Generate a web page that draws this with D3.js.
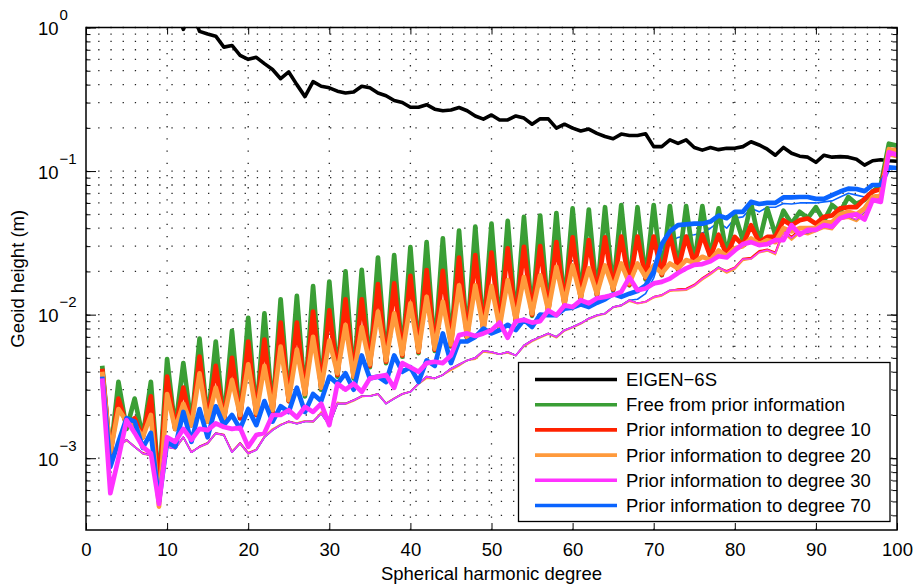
<!DOCTYPE html>
<html>
<head>
<meta charset="utf-8">
<script src="https://cdn.jsdelivr.net/npm/d3@7"></script>
<style>
body { margin: 0; background: #fff; }
svg text { font-family: "Liberation Sans", Arial, sans-serif; fill: #000; }
</style>
</head>
<body>
<div id="chart"></div>
<script>
// spherical harmonic degrees 2..100
var degrees = d3.range(2, 101);
var xTicks = [0, 10, 20, 30, 40, 50, 60, 70, 80, 90, 100];
var yDecades = [-3, -2, -1, 0];
var legendLabels = ["EIGEN\u22126S", "Free from prior information", "Prior information to degree 10",
  "Prior information to degree 20", "Prior information to degree 30", "Prior information to degree 70"];

// geoid height per degree (m), rows of ten starting at degree 2, 12, 22 ...
var eigen6s = [
  9.0, 6.0, 4.5, 3.6, 3.0, 2.5, 2.1, 1.8, 1.6, 1.4,
  0.97, 1.3, 0.94, 0.90, 0.87, 0.73, 0.75, 0.64, 0.60, 0.62,
  0.56, 0.51, 0.44, 0.49, 0.40, 0.33, 0.42, 0.39, 0.38, 0.36,
  0.35, 0.355, 0.39, 0.38, 0.35, 0.335, 0.31, 0.30, 0.278, 0.278,
  0.29, 0.27, 0.263, 0.266, 0.277, 0.263, 0.242, 0.23, 0.246, 0.227,
  0.227, 0.242, 0.234, 0.212, 0.231, 0.231, 0.199, 0.212, 0.199, 0.19,
  0.196, 0.183, 0.174, 0.168, 0.181, 0.177, 0.177, 0.182, 0.148, 0.148,
  0.165, 0.156, 0.165, 0.146, 0.140, 0.146, 0.141, 0.144, 0.144, 0.148,
  0.160, 0.152, 0.142, 0.129, 0.146, 0.133, 0.127, 0.125, 0.115, 0.129,
  0.125, 0.126, 0.125, 0.121, 0.110, 0.118, 0.120, 0.118, 0.117];

var freeGreen = [
  0.0044, 0.00105, 0.0034, 0.0016, 0.0026, 0.0014, 0.0034, 0.00063, 0.0049, 0.0016,
  0.0046, 0.0017, 0.0068, 0.0018, 0.0065, 0.0018, 0.0077, 0.0019, 0.0095, 0.0020,
  0.0102, 0.0021, 0.0128, 0.0025, 0.0135, 0.0027, 0.0158, 0.0030, 0.0170, 0.0037,
  0.0200, 0.0036, 0.0205, 0.0043, 0.0250, 0.0046, 0.0260, 0.0051, 0.0295, 0.0054,
  0.0320, 0.0056, 0.0340, 0.0060, 0.0385, 0.0068, 0.0410, 0.0077, 0.0430, 0.0080,
  0.0450, 0.0089, 0.0480, 0.0098, 0.0490, 0.0104, 0.0510, 0.0116, 0.0550, 0.0128,
  0.0540, 0.0136, 0.0560, 0.0148, 0.0580, 0.0160, 0.0560, 0.0176, 0.0580, 0.0188,
  0.0570, 0.0205, 0.0570, 0.0225, 0.0570, 0.0245, 0.0550, 0.0260, 0.0500, 0.0330,
  0.0600, 0.0320, 0.0550, 0.0360, 0.0530, 0.0430, 0.0520, 0.0470, 0.0560, 0.0450,
  0.0580, 0.0520, 0.0660, 0.0590, 0.0630, 0.0720, 0.0800, 0.155, 0.150];

var prior10 = [
  0.0042, 0.00105, 0.0026, 0.0017, 0.0019, 0.0014, 0.0027, 0.00062, 0.0037, 0.0016,
  0.0031, 0.0017, 0.0051, 0.0018, 0.0044, 0.0018, 0.0050, 0.0019, 0.0065, 0.0020,
  0.0067, 0.0021, 0.0088, 0.0025, 0.0088, 0.0028, 0.0105, 0.0031, 0.0107, 0.0038,
  0.0128, 0.0037, 0.0128, 0.0044, 0.0163, 0.0047, 0.0165, 0.0052, 0.0186, 0.0055,
  0.0204, 0.0057, 0.0202, 0.0061, 0.0250, 0.0069, 0.0260, 0.0078, 0.0270, 0.0081,
  0.0290, 0.0090, 0.0297, 0.0100, 0.0300, 0.0105, 0.0320, 0.0118, 0.0345, 0.0130,
  0.0330, 0.0138, 0.0345, 0.0150, 0.0350, 0.0162, 0.0350, 0.0180, 0.0350, 0.0190,
  0.0360, 0.0208, 0.0350, 0.0228, 0.0360, 0.0253, 0.0360, 0.0260, 0.0348, 0.0305,
  0.0420, 0.0320, 0.0348, 0.0348, 0.0455, 0.0420, 0.0455, 0.0467, 0.0430, 0.0480,
  0.0490, 0.0550, 0.0560, 0.0560, 0.0640, 0.0720, 0.0750, 0.140, 0.140];

var prior20 = [
  0.0040, 0.0011, 0.0022, 0.0018, 0.0017, 0.0014, 0.0020, 0.00046, 0.0028, 0.0016,
  0.0024, 0.0017, 0.0039, 0.0018, 0.0031, 0.0019, 0.0035, 0.0020, 0.0045, 0.00205,
  0.0044, 0.00216, 0.0060, 0.00254, 0.0057, 0.0028, 0.0070, 0.0031, 0.0066, 0.0039,
  0.0085, 0.0037, 0.0082, 0.0045, 0.0105, 0.0048, 0.0102, 0.0053, 0.0120, 0.0056,
  0.0133, 0.0058, 0.0123, 0.0062, 0.0160, 0.0070, 0.0160, 0.0080, 0.0158, 0.0082,
  0.0174, 0.0092, 0.0183, 0.0102, 0.0188, 0.0107, 0.0215, 0.0120, 0.0220, 0.0133,
  0.0210, 0.0140, 0.0220, 0.0152, 0.0227, 0.0165, 0.0227, 0.0183, 0.0220, 0.0194,
  0.0227, 0.0210, 0.0240, 0.0230, 0.0253, 0.0240, 0.0280, 0.0255, 0.0290, 0.0300,
  0.0340, 0.0310, 0.0330, 0.0320, 0.0400, 0.0380, 0.0400, 0.0400, 0.0400, 0.0440,
  0.0440, 0.0500, 0.0520, 0.0500, 0.0550, 0.0660, 0.0680, 0.142, 0.138];

var prior30 = [
  0.0036, 0.00057, 0.0010, 0.00184, 0.0015, 0.0012, 0.00108, 0.00048, 0.0014, 0.0013,
  0.0016, 0.00134, 0.0016, 0.00157, 0.00175, 0.00165, 0.0016, 0.00163, 0.0012, 0.00145,
  0.0015, 0.0020, 0.0020, 0.00216, 0.00192, 0.00228, 0.0021, 0.0024, 0.0017, 0.0033,
  0.0030, 0.0033, 0.0029, 0.0036, 0.0037, 0.0038, 0.0031, 0.0046, 0.0043, 0.0040,
  0.0046, 0.0047, 0.0046, 0.0052, 0.0072, 0.0074, 0.0071, 0.0074, 0.0078, 0.0088,
  0.0069, 0.0090, 0.0092, 0.0088, 0.0090, 0.0107, 0.0099, 0.0116, 0.0113, 0.0126,
  0.0120, 0.0130, 0.0133, 0.0137, 0.0144, 0.0182, 0.0148, 0.0152, 0.0165, 0.0169,
  0.0178, 0.0195, 0.0210, 0.0222, 0.0225, 0.0235, 0.0255, 0.0250, 0.0280, 0.0310,
  0.0320, 0.0305, 0.0310, 0.0330, 0.0330, 0.0420, 0.0360, 0.0390, 0.0390, 0.0420,
  0.0410, 0.0470, 0.0490, 0.0500, 0.0460, 0.0630, 0.0610, 0.135, 0.130];

var prior70 = [
  0.0037, 0.00087, 0.0013, 0.0019, 0.0018, 0.00118, 0.0015, 0.00050, 0.0013, 0.0012,
  0.0021, 0.0013, 0.0022, 0.0014, 0.0023, 0.0017, 0.0020, 0.0016, 0.0022, 0.0017,
  0.0025, 0.0018, 0.0023, 0.0021, 0.0031, 0.0021, 0.0028, 0.0025, 0.0037, 0.0033,
  0.0039, 0.0030, 0.0052, 0.0036, 0.0037, 0.0034, 0.0052, 0.0040, 0.0043, 0.0034,
  0.0048, 0.0044, 0.0074, 0.0046, 0.0065, 0.0065, 0.0070, 0.0080, 0.0074, 0.0078,
  0.0085, 0.0078, 0.0092, 0.0082, 0.0100, 0.0099, 0.0099, 0.0110, 0.0112, 0.0118,
  0.0113, 0.0121, 0.0128, 0.0139, 0.0133, 0.0140, 0.0146, 0.0160, 0.0200, 0.0310,
  0.0380, 0.0420, 0.0425, 0.0430, 0.0430, 0.0445, 0.0490, 0.0470, 0.0520, 0.0520,
  0.0610, 0.0590, 0.0600, 0.0600, 0.0655, 0.0655, 0.0660, 0.0660, 0.0640, 0.0640,
  0.0680, 0.0720, 0.0755, 0.0750, 0.0725, 0.0800, 0.0800, 0.106, 0.105];

// thin curves of the same solutions
var thinGreen = [
  0.0041, 0.0010, 0.0012, 0.00134, 0.0012, 0.00108, 0.00105, 0.00048, 0.0012, 0.00117,
  0.0014, 0.0011, 0.0012, 0.00127, 0.00149, 0.00145, 0.0011, 0.00127, 0.00108, 0.00114,
  0.0014, 0.00157, 0.0017, 0.0018, 0.00174, 0.0018, 0.0018, 0.00205, 0.0017, 0.0024,
  0.0024, 0.00253, 0.0027, 0.0027, 0.0028, 0.0024, 0.0026, 0.0028, 0.0029, 0.0033,
  0.0037, 0.0036, 0.0038, 0.0042, 0.0045, 0.0048, 0.0050, 0.0056, 0.0055, 0.0053,
  0.0055, 0.0052, 0.0061, 0.0066, 0.0070, 0.0074, 0.0070, 0.0078, 0.0082, 0.0087,
  0.0094, 0.0099, 0.0102, 0.0113, 0.0116, 0.0126, 0.0120, 0.0123, 0.0133, 0.0137,
  0.0148, 0.0149, 0.0150, 0.0160, 0.0178, 0.0194, 0.0215, 0.0199, 0.0210, 0.0243,
  0.0246, 0.0274, 0.0280, 0.0266, 0.0377, 0.0339, 0.0377, 0.0368, 0.0387, 0.0408,
  0.0398, 0.0467, 0.0480, 0.0455, 0.0520, 0.0640, 0.0630, 0.130, 0.126];

var thinRed = [
  0.0041, 0.0010, 0.0012, 0.00135, 0.0012, 0.00109, 0.00105, 0.00048, 0.0012, 0.00118,
  0.0014, 0.0011, 0.00121, 0.00128, 0.0015, 0.00146, 0.00111, 0.00128, 0.00109, 0.00115,
  0.00141, 0.00158, 0.00171, 0.00181, 0.00175, 0.00181, 0.00181, 0.00206, 0.00171, 0.00241,
  0.00241, 0.00254, 0.00271, 0.00271, 0.00281, 0.00241, 0.00261, 0.00281, 0.00291, 0.00331,
  0.0037, 0.0036, 0.0038, 0.0042, 0.0045, 0.0048, 0.0050, 0.0056, 0.0055, 0.0053,
  0.0055, 0.0052, 0.0061, 0.0066, 0.0070, 0.0074, 0.0070, 0.0078, 0.0082, 0.0087,
  0.0094, 0.0099, 0.0102, 0.0113, 0.0116, 0.0126, 0.0120, 0.0123, 0.0133, 0.0137,
  0.0146, 0.0151, 0.0152, 0.0162, 0.0180, 0.0196, 0.0212, 0.0202, 0.0214, 0.0246,
  0.0250, 0.0278, 0.0285, 0.0272, 0.0390, 0.0350, 0.0395, 0.0390, 0.0410, 0.0430,
  0.0420, 0.0490, 0.0500, 0.0480, 0.0560, 0.0660, 0.0650, 0.136, 0.131];

var thinOrange = [
  0.0040, 0.00102, 0.00122, 0.00132, 0.00121, 0.00107, 0.00104, 0.00046, 0.00121, 0.00116,
  0.00139, 0.00112, 0.00119, 0.00126, 0.00148, 0.00144, 0.00112, 0.00126, 0.00107, 0.00115,
  0.00142, 0.0016, 0.00172, 0.00178, 0.00176, 0.00182, 0.00178, 0.0021, 0.00172, 0.00245,
  0.00238, 0.0025, 0.00268, 0.00272, 0.00278, 0.00242, 0.00262, 0.00278, 0.00292, 0.00328,
  0.0036, 0.0036, 0.0038, 0.0041, 0.0044, 0.0048, 0.0049, 0.0055, 0.0054, 0.0053,
  0.0054, 0.0052, 0.0060, 0.0065, 0.0069, 0.0073, 0.0069, 0.0077, 0.0081, 0.0086,
  0.0093, 0.0098, 0.0101, 0.0112, 0.0115, 0.0124, 0.0119, 0.0122, 0.0131, 0.0135,
  0.0146, 0.0147, 0.0148, 0.0158, 0.0175, 0.0190, 0.0210, 0.0195, 0.0207, 0.0238,
  0.0244, 0.0270, 0.0278, 0.0262, 0.0370, 0.0330, 0.0370, 0.0360, 0.0380, 0.0400,
  0.0390, 0.0460, 0.0470, 0.0445, 0.0500, 0.0620, 0.0620, 0.128, 0.124];

var thinMagenta = [
  0.0038, 0.0010, 0.0012, 0.00134, 0.0012, 0.00108, 0.00105, 0.00048, 0.0012, 0.00117,
  0.0014, 0.0011, 0.0012, 0.00127, 0.00149, 0.00145, 0.0011, 0.00127, 0.00108, 0.00114,
  0.0014, 0.00157, 0.0017, 0.0018, 0.00174, 0.0018, 0.0018, 0.00205, 0.0017, 0.0024,
  0.0024, 0.00253, 0.0027, 0.0027, 0.0028, 0.0024, 0.0026, 0.0028, 0.0029, 0.0033,
  0.0037, 0.0036, 0.0038, 0.0042, 0.0045, 0.0048, 0.0050, 0.0056, 0.0055, 0.0053,
  0.0055, 0.0052, 0.0061, 0.0066, 0.0070, 0.0074, 0.0070, 0.0078, 0.0082, 0.0087,
  0.0094, 0.0099, 0.0102, 0.0113, 0.0116, 0.0126, 0.0120, 0.0123, 0.0133, 0.0137,
  0.0148, 0.0149, 0.0150, 0.0160, 0.0178, 0.0194, 0.0213, 0.0200, 0.0212, 0.0244,
  0.0245, 0.0272, 0.0282, 0.0268, 0.0380, 0.0342, 0.0380, 0.0372, 0.0392, 0.0412,
  0.0402, 0.0470, 0.0485, 0.0460, 0.0525, 0.0645, 0.0635, 0.131, 0.127];

var thinBlue = [
  0.0039, 0.0010, 0.0012, 0.00134, 0.0012, 0.00108, 0.00105, 0.00049, 0.0012, 0.00117,
  0.0014, 0.0011, 0.0012, 0.00127, 0.00149, 0.00145, 0.0011, 0.00127, 0.00108, 0.00114,
  0.0014, 0.00157, 0.0017, 0.0018, 0.00174, 0.0018, 0.0018, 0.00205, 0.0017, 0.0024,
  0.0024, 0.00253, 0.0027, 0.0027, 0.0028, 0.0024, 0.0026, 0.0028, 0.0029, 0.0033,
  0.0037, 0.0036, 0.0038, 0.0042, 0.0045, 0.0048, 0.0050, 0.0056, 0.0055, 0.0053,
  0.0055, 0.0052, 0.0061, 0.0066, 0.0070, 0.0074, 0.0070, 0.0078, 0.0082, 0.0087,
  0.0094, 0.0099, 0.0102, 0.0113, 0.0116, 0.0126, 0.0128, 0.0140, 0.0180, 0.0270,
  0.0320, 0.0345, 0.0355, 0.0360, 0.0370, 0.0400, 0.0440, 0.0400, 0.0470, 0.0480,
  0.0550, 0.0520, 0.0560, 0.0560, 0.0595, 0.0590, 0.0600, 0.0600, 0.0600, 0.0610,
  0.0620, 0.0660, 0.0700, 0.0680, 0.0660, 0.0740, 0.0760, 0.104, 0.103];

var colors = ["#000000", "#3a9e35", "#ff2200", "#ff9a3c", "#ff33ff", "#0a64ff"];

(function() {
  var width = 918, height = 585;
  var pLeft = 86, pRight = 897, pTop = 27.5, pBottom = 530;

  var x = d3.scaleLinear().domain([0, 100]).range([pLeft, pRight]);
  var y = d3.scaleLog().domain([Math.pow(10, -3.5), 1]).range([pBottom, pTop]);

  var svg = d3.select("#chart").append("svg")
      .attr("width", width).attr("height", height);

  // minor positions 1..9 x 10^k inside the domain
  var yMinor = [];
  [-4, -3, -2, -1].forEach(function(e) {
    for (var m = 1; m <= 9; m++) {
      var v = m * Math.pow(10, e);
      if (v >= y.domain()[0] && v <= 1) yMinor.push(v);
    }
  });
  yMinor.push(1);
  var yMajor = yDecades.map(function(e) { return Math.pow(10, e); });

  //Grid
  var grid = svg.append("g").attr("stroke", "#222").attr("stroke-width", 1.3)
      .attr("stroke-dasharray", "1.3,10.9");
  grid.selectAll(".hg").data(yMinor).enter().append("line")
      .attr("x1", pLeft).attr("x2", pRight)
      .attr("y1", function(d) { return y(d); }).attr("y2", function(d) { return y(d); });
  grid.selectAll(".vg").data(xTicks.slice(1, -1)).enter().append("line")
      .attr("y1", pBottom).attr("y2", pTop)
      .attr("x1", function(d) { return x(d); }).attr("x2", function(d) { return x(d); });

  svg.append("clipPath").attr("id", "plot").append("rect")
      .attr("x", pLeft).attr("y", pTop).attr("width", pRight - pLeft).attr("height", pBottom - pTop);

  var line = d3.line()
      .x(function(d) { return x(d[0]); })
      .y(function(d) { return y(d[1]); });

  var plot = svg.append("g").attr("clip-path", "url(#plot)")
      .attr("fill", "none").attr("stroke-linejoin", "round");

  function draw(values, color, w) {
    plot.append("path").datum(d3.zip(degrees, values))
        .attr("d", line).attr("stroke", color).attr("stroke-width", w);
  }

  draw(eigen6s, colors[0], 3.6);
  draw(thinGreen, colors[1], 1.6);
  draw(thinRed, colors[2], 1.6);
  draw(thinOrange, colors[3], 1.6);
  draw(thinBlue, colors[5], 1.6);
  draw(thinMagenta, colors[4], 1.6);
  draw(freeGreen, colors[1], 4.7);
  draw(prior10, colors[2], 4.7);
  draw(prior20, colors[3], 4.7);
  draw(prior70, colors[5], 4.7);
  draw(prior30, colors[4], 4.7);

  // Axes (ticks inward on all four sides)
  function strip(g) { g.select(".domain").remove(); g.selectAll("line").attr("stroke", "#000"); }

  svg.append("g").attr("transform", "translate(0," + pBottom + ")")
      .call(d3.axisBottom(x).tickValues(xTicks).tickSize(-7).tickSizeOuter(0))
      .call(strip)
      .call(function(g) {
        g.selectAll("text").attr("y", 26).attr("dy", null)
          .attr("font-size", "18.5px").attr("font-family", "Liberation Sans, Arial, sans-serif");
      });
  svg.append("g").attr("transform", "translate(0," + pTop + ")")
      .call(d3.axisTop(x).tickValues(xTicks).tickSize(-7).tickSizeOuter(0).tickFormat(""))
      .call(strip);

  [[d3.axisLeft, pLeft], [d3.axisRight, pRight]].forEach(function(a) {
    svg.append("g").attr("transform", "translate(" + a[1] + ",0)")
        .call(a[0](y).tickValues(yMinor).tickSize(-4.5).tickSizeOuter(0).tickFormat(""))
        .call(strip);
    svg.append("g").attr("transform", "translate(" + a[1] + ",0)")
        .call(a[0](y).tickValues(yMajor).tickSize(-10).tickSizeOuter(0).tickFormat(""))
        .call(strip);
  });

  svg.append("rect").attr("x", pLeft).attr("y", pTop)
      .attr("width", pRight - pLeft).attr("height", pBottom - pTop)
      .attr("fill", "none").attr("stroke", "#000").attr("stroke-width", 1.5);

  // y tick labels 10^k
  var ylab = svg.selectAll(".ylab").data(yDecades).enter().append("g");
  ylab.append("text").attr("x", 38).attr("y", function(d) { return y(Math.pow(10, d)) + 7.5; })
      .attr("font-size", "18.5px").text("10");
  ylab.append("text").attr("x", 59.5).attr("y", function(d) { return y(Math.pow(10, d)) - 7.5; })
      .attr("font-size", "15px").text(function(d) { return d < 0 ? "\u2212" + (-d) : d; });

  svg.append("text").attr("x", (pLeft + pRight) / 2).attr("y", 580)
      .attr("text-anchor", "middle").attr("font-size", "18.5px").text("Spherical harmonic degree");
  svg.append("text").attr("transform", "translate(24," + (pTop + pBottom) / 2 + ") rotate(-90)")
      .attr("text-anchor", "middle").attr("font-size", "18.5px").text("Geoid height (m)");

  // Legend
  var legend = svg.append("g");
  legend.append("rect").attr("x", 518.5).attr("y", 362.5).attr("width", 371.5).attr("height", 159)
      .attr("fill", "#fff").attr("stroke", "#000").attr("stroke-width", 1.3);
  var rows = legend.selectAll(".row").data(legendLabels).enter().append("g")
      .attr("transform", function(d, i) { return "translate(0," + (379.5 + i * 25.2) + ")"; });
  rows.append("line").attr("x1", 535).attr("x2", 617)
      .attr("stroke", function(d, i) { return colors[i]; }).attr("stroke-width", 3.6);
  rows.append("text").attr("x", 626).attr("y", 6.5).attr("font-size", "18.5px")
      .text(function(d) { return d; });
})();
</script>
</body>
</html>
